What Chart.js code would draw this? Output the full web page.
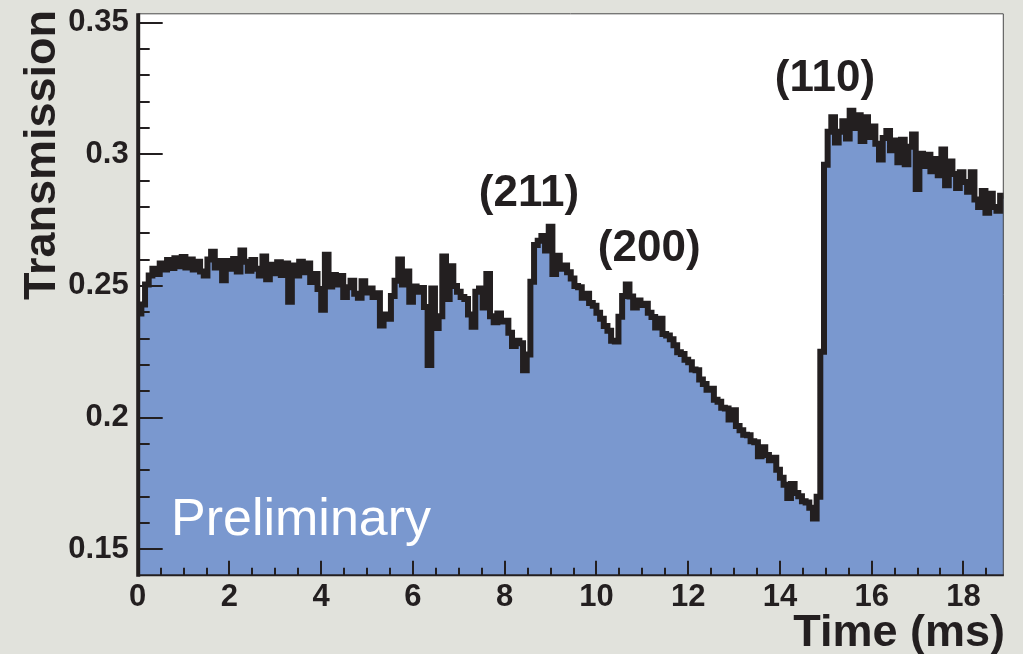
<!DOCTYPE html>
<html>
<head>
<meta charset="utf-8">
<title>Transmission vs time</title>
<script src="https://cdn.jsdelivr.net/npm/chart.js@4.4.1/dist/chart.umd.min.js"></script>
<style>
  html, body { margin: 0; padding: 0; background: #e1e2dc; }
  #wrap { width: 1023px; height: 654px; position: relative; }
  canvas { display: block; }
</style>
</head>
<body>
<div id="wrap"><canvas id="c" width="1023" height="654"></canvas></div>
<script>
// Histogram binning (ms)
const binWidth = 0.08;
const timeMax = 18.88;

// Transmission per time bin
const transmission = [
  0.2395, 0.2430, 0.2505, 0.2540, 0.2565, 0.2545, 0.2585, 0.2562, 0.2598, 0.2568,
  0.2605, 0.2575, 0.2610, 0.2570, 0.2600, 0.2562, 0.2592, 0.2555, 0.2540, 0.2600,
  0.2630, 0.2570, 0.2595, 0.2522, 0.2595, 0.2565, 0.2602, 0.2555, 0.2635, 0.2592,
  0.2558, 0.2598, 0.2565, 0.2540, 0.2612, 0.2525, 0.2580, 0.2548, 0.2590, 0.2542,
  0.2585, 0.2440, 0.2578, 0.2540, 0.2592, 0.2552, 0.2585, 0.2515, 0.2545, 0.2488,
  0.2410, 0.2618, 0.2498, 0.2542, 0.2505, 0.2538, 0.2458, 0.2495, 0.2520, 0.2470,
  0.2455, 0.2518, 0.2475, 0.2490, 0.2458, 0.2472, 0.2350, 0.2392, 0.2375, 0.2462,
  0.2520, 0.2600, 0.2505, 0.2555, 0.2440, 0.2498, 0.2478, 0.2492, 0.2420, 0.2200,
  0.2490, 0.2340, 0.2385, 0.2612, 0.2450, 0.2575, 0.2500, 0.2478, 0.2458, 0.2450,
  0.2392, 0.2345, 0.2478, 0.2490, 0.2418, 0.2545, 0.2385, 0.2362, 0.2395, 0.2365,
  0.2368, 0.2322, 0.2272, 0.2292, 0.2282, 0.2180, 0.2240, 0.2516, 0.2655, 0.2672,
  0.2690, 0.2635, 0.2725, 0.2545, 0.2615, 0.2565, 0.2578, 0.2552, 0.2528, 0.2500,
  0.2495, 0.2455, 0.2470, 0.2435, 0.2425, 0.2398, 0.2375, 0.2348, 0.2330, 0.2292,
  0.2289, 0.2383, 0.2462, 0.2505, 0.2460, 0.2418, 0.2445, 0.2428, 0.2432, 0.2398,
  0.2382, 0.2342, 0.2375, 0.2318, 0.2312, 0.2298, 0.2275, 0.2248, 0.2242, 0.2220,
  0.2210, 0.2183, 0.2180, 0.2145, 0.2128, 0.2106, 0.2110, 0.2068, 0.2060, 0.2038,
  0.2035, 0.1993, 0.2028, 0.1968, 0.1952, 0.1935, 0.1933, 0.1910, 0.1907, 0.1853,
  0.1888, 0.1858, 0.1838, 0.1848, 0.1802, 0.1772, 0.1745, 0.1695, 0.1748, 0.1714,
  0.1702, 0.1683, 0.1678, 0.1658, 0.1617, 0.1700, 0.2250, 0.2960, 0.3085, 0.3140,
  0.3045, 0.3085, 0.3125, 0.3060, 0.3165, 0.3100, 0.3148, 0.3050, 0.3140, 0.3065,
  0.3105, 0.3040, 0.2980, 0.3062, 0.3088, 0.3015, 0.3052, 0.2970, 0.3055, 0.2962,
  0.3028, 0.3075, 0.2868, 0.3002, 0.2955, 0.2998, 0.2935, 0.2982, 0.2920, 0.3018,
  0.2882, 0.2972, 0.2925, 0.2872, 0.2932, 0.2895, 0.2858, 0.2932, 0.2828, 0.2800,
  0.2860, 0.2778, 0.2850, 0.2800, 0.2785, 0.2842
];

// Axis ticks
const xTickValues = [0, 2, 4, 6, 8, 10, 12, 14, 16, 18];
const xTickLabels = ['0', '2', '4', '6', '8', '10', '12', '14', '16', '18'];
const yTickValues = [0.15, 0.2, 0.25, 0.3, 0.35];
const yTickLabels = ['0.15', '0.2', '0.25', '0.3', '0.35'];

// Peak annotations: text and anchor in data units (time, transmission)
const peakLabels = ['(211)', '(200)', '(110)'];
const peakTimes = [8.53, 11.15, 14.98];
const peakLevels = [0.2804, 0.2595, 0.3241];

const FONT = '"Liberation Sans", Arial, Helvetica, sans-serif';
const INK = '#231f20';

// Step histogram points: one point per bin left edge plus a closing edge
const points = transmission.map((v, i) => ({ x: +(i * binWidth).toFixed(2), y: v }));
points.push({ x: timeMax, y: transmission[transmission.length - 1] });

const plotBackground = {
  id: 'plotBackground',
  beforeDraw(chart) {
    const { ctx, chartArea: a } = chart;
    ctx.save();
    ctx.fillStyle = '#ffffff';
    ctx.fillRect(a.left, a.top, a.right - a.left, a.bottom - a.top);
    ctx.restore();
  }
};

const frameAndTicks = {
  id: 'frameAndTicks',
  afterDatasetsDraw(chart) {
    const { ctx, chartArea: a, scales: { x, y } } = chart;
    ctx.save();
    // top and right frame
    ctx.strokeStyle = '#444';
    ctx.lineWidth = 1;
    ctx.beginPath();
    ctx.moveTo(a.left, a.top + 0.5);
    ctx.lineTo(a.right - 0.5, a.top + 0.5);
    ctx.lineTo(a.right - 0.5, a.bottom);
    ctx.stroke();

    ctx.strokeStyle = INK;
    ctx.lineWidth = 2;
    // x ticks: major every 2 ms, minor every 0.5 ms, pointing inward
    ctx.beginPath();
    for (let i = 0; i * 0.5 <= timeMax; i++) {
      const px = Math.round(x.getPixelForValue(i * 0.5));
      const len = i % 4 === 0 ? 15 : 8;
      ctx.moveTo(px, a.bottom);
      ctx.lineTo(px, a.bottom - len);
    }
    // y ticks: major every 0.05, minor every 0.01
    for (let i = 15; i <= 35; i++) {
      const py = Math.round(y.getPixelForValue(i / 100));
      const len = i % 5 === 0 ? 25 : 12;
      ctx.moveTo(a.left, py);
      ctx.lineTo(a.left + len, py);
    }
    ctx.stroke();

    // axis lines
    ctx.lineWidth = 2;
    ctx.beginPath();
    ctx.moveTo(a.left, a.bottom - 0.5);
    ctx.lineTo(a.right, a.bottom - 0.5);
    ctx.stroke();
    ctx.lineWidth = 4;
    ctx.beginPath();
    ctx.moveTo(a.left + 0.5, a.top);
    ctx.lineTo(a.left + 0.5, a.bottom + 1);
    ctx.stroke();
    ctx.restore();
  },
  afterDraw(chart) {
    const { ctx, scales: { x, y } } = chart;
    ctx.save();
    ctx.fillStyle = INK;
    // axis titles
    ctx.font = 'bold 45px ' + FONT;
    ctx.textAlign = 'right';
    ctx.textBaseline = 'alphabetic';
    ctx.fillText('Time (ms)', 1005, 646);
    ctx.save();
    ctx.translate(55, 10);
    ctx.rotate(-Math.PI / 2);
    ctx.fillText('Transmission', 0, 0);
    ctx.restore();

    // peak labels
    ctx.font = 'bold 44px ' + FONT;
    ctx.textAlign = 'center';
    peakLabels.forEach((t, i) => {
      ctx.fillText(t, x.getPixelForValue(peakTimes[i]), y.getPixelForValue(peakLevels[i]));
    });

    // watermark
    ctx.fillStyle = '#ffffff';
    ctx.font = '52px ' + FONT;
    ctx.textAlign = 'left';
    ctx.fillText('Preliminary', 171, 535);
    ctx.restore();
  }
};

new Chart(document.getElementById('c'), {
  type: 'line',
  data: {
    datasets: [
      {
        // outline drawn above the fill
        data: points,
        stepped: true,
        fill: false,
        borderColor: INK,
        borderWidth: 6,
        pointRadius: 0,
        borderJoinStyle: 'miter',
        borderCapStyle: 'butt',
        order: 0
      },
      {
        // filled histogram body
        data: points,
        stepped: true,
        fill: 'start',
        backgroundColor: '#7a98cf',
        borderWidth: 0,
        pointRadius: 0,
        order: 1
      }
    ]
  },
  options: {
    responsive: false,
    animation: false,
    devicePixelRatio: 1,
    layout: { padding: { left: 0, right: 19.2, top: 13.3, bottom: 0 } },
    plugins: { legend: { display: false }, tooltip: { enabled: false } },
    scales: {
      x: {
        type: 'linear',
        min: 0,
        max: timeMax,
        grid: { display: false, drawTicks: false, tickLength: 0 },
        border: { display: false },
        afterBuildTicks(s) { s.ticks = xTickValues.map(v => ({ value: v })); },
        afterFit(s) {
          s.height = 78.3;
          s.paddingLeft = 0; s.paddingRight = 0; s.paddingTop = 0; s.paddingBottom = 0;
        },
        ticks: {
          autoSkip: false,
          maxRotation: 0,
          padding: 3,
          color: INK,
          font: { family: FONT, size: 31, weight: 'bold' },
          callback: (v) => xTickLabels[xTickValues.indexOf(v)]
        }
      },
      y: {
        min: 0.14,
        max: 0.3535,
        grid: { display: false, drawTicks: false, tickLength: 0 },
        border: { display: false },
        afterBuildTicks(s) { s.ticks = yTickValues.map(v => ({ value: v })); },
        afterFit(s) {
          s.width = 137.7;
          s.paddingLeft = 0; s.paddingRight = 0; s.paddingTop = 0; s.paddingBottom = 0;
        },
        ticks: {
          autoSkip: false,
          padding: 9,
          color: INK,
          font: { family: FONT, size: 31, weight: 'bold' },
          callback: (v) => yTickLabels[yTickValues.indexOf(v)]
        }
      }
    }
  },
  plugins: [plotBackground, frameAndTicks]
});
</script>
</body>
</html>
